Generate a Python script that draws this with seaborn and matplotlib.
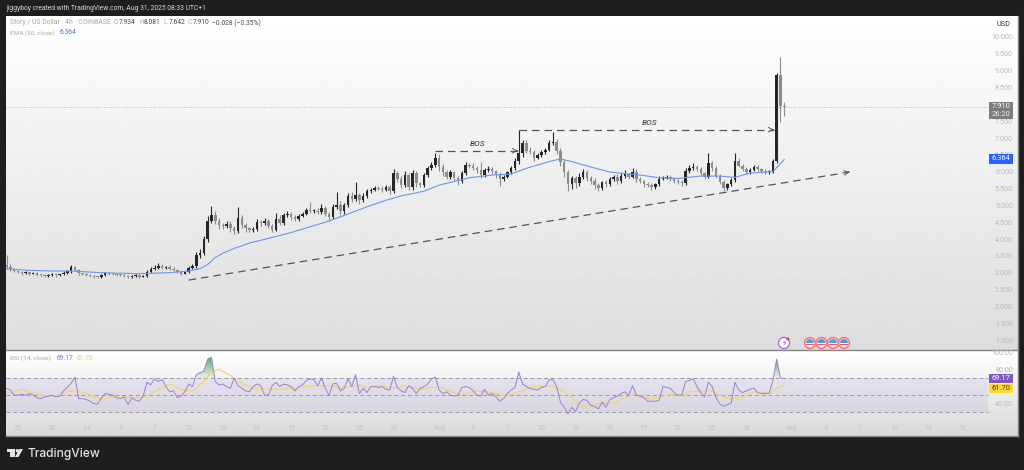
"""
STORY / USD 4h chart with EMA and RSI pane
"""
import numpy as np
import pandas as pd
import matplotlib
matplotlib.use('Agg')
import matplotlib.pyplot as plt
import matplotlib.dates as mdates
import seaborn as sns
from matplotlib.patches import Circle, Polygon, Rectangle, Wedge
from matplotlib.path import Path
from matplotlib.transforms import Affine2D

# candles, one row = 10 bars
closes = [
    3.18, 3.10, 3.05, 3.02, 2.98, 3.01, 2.97, 2.99, 2.93, 2.92,
    2.90, 2.93, 2.95, 2.92, 2.95, 3.00, 3.04, 3.16, 3.08, 2.98,
    2.95, 2.93, 2.91, 2.88, 2.86, 2.93, 2.99, 2.97, 2.95, 2.94,
    2.93, 2.90, 2.87, 2.90, 2.92, 2.88, 2.91, 3.02, 3.12, 3.14,
    3.20, 3.15, 3.17, 3.12, 3.08, 3.03, 2.97, 3.03, 3.15, 3.20,
    3.52, 3.58, 4.00, 4.55, 4.72, 4.55, 4.42, 4.38, 4.45, 4.34,
    4.25, 4.62, 4.42, 4.32, 4.27, 4.30, 4.50, 4.48, 4.55, 4.40,
    4.28, 4.60, 4.48, 4.70, 4.73, 4.65, 4.60, 4.68, 4.75, 4.85,
    4.82, 4.84, 4.80, 4.92, 4.75, 4.65, 4.95, 5.02, 4.82, 5.00,
    5.28, 5.18, 5.30, 5.15, 5.28, 5.42, 5.47, 5.52, 5.50, 5.46,
    5.54, 5.42, 5.95, 5.78, 5.60, 5.90, 5.55, 5.95, 5.65, 5.60,
    5.90, 6.12, 6.20, 6.42, 6.15, 5.98, 5.85, 5.98, 5.82, 5.72,
    5.95, 6.20, 6.18, 6.12, 6.05, 5.90, 6.05, 6.08, 6.02, 5.92,
    5.78, 5.85, 5.98, 6.10, 6.32, 6.55, 6.85, 6.62, 6.58, 6.42,
    6.50, 6.58, 6.65, 6.85, 6.88, 6.62, 6.30, 6.00, 5.62, 5.80,
    5.65, 5.85, 6.00, 5.82, 5.72, 5.60, 5.52, 5.68, 5.62, 5.78,
    5.85, 5.72, 5.88, 5.92, 5.85, 6.00, 5.78, 5.72, 5.62, 5.60,
    5.55, 5.62, 5.78, 5.82, 5.85, 5.78, 5.72, 5.70, 5.66, 6.02,
    6.10, 6.15, 6.08, 5.95, 5.85, 6.25, 6.12, 5.88, 5.70, 5.52,
    5.62, 5.75, 6.32, 6.18, 6.08, 5.98, 6.05, 6.15, 6.08, 6.02,
    5.98, 6.00, 6.32, 8.87, 7.95, 7.91,
]
up_wick = [
    .30, .08, .04, .03, .04, .03, .02, .03, .04, .02,
    .03, .02, .04, .03, .02, .04, .03, .08, .05, .03,
    .02, .03, .02, .03, .02, .03, .04, .02, .03, .02,
    .02, .03, .02, .02, .03, .02, .03, .05, .04, .08,
    .10, .06, .03, .05, .04, .03, .02, .02, .04, .05,
    .10, .12, .08, .12, .26, .10, .08, .06, .10, .08,
    .06, .34, .08, .05, .04, .07, .10, .06, .08, .05,
    .04, .18, .10, .08, .10, .06, .05, .06, .05, .08,
    .25, .06, .08, .12, .05, .06, .10, .38, .10, .08,
    .10, .12, .40, .08, .10, .08, .05, .04, .04, .06,
    .05, .06, .14, .08, .10, .12, .05, .10, .08, .05,
    .05, .06, .08, .12, .10, .07, .06, .08, .05, .06,
    .08, .10, .06, .08, .05, .25, .06, .08, .06, .04,
    .06, .06, .05, .06, .10, .69, .10, .08, .10, .06,
    .05, .06, .05, .10, .30, .08, .08, .05, .06, .08,
    .06, .10, .08, .06, .05, .08, .06, .05, .08, .06,
    .06, .08, .08, .12, .05, .10, .08, .05, .04, .06,
    .05, .05, .08, .05, .06, .05, .04, .05, .05, .08,
    .10, .10, .06, .05, .04, .30, .08, .06, .05, .05,
    .05, .06, .23, .10, .05, .06, .05, .06, .05, .04,
    .05, .06, .06, .05, .54, .13,
]
down_wick = [
    .06, .05, .04, .03, .04, .02, .03, .02, .04, .03,
    .03, .02, .03, .04, .02, .03, .03, .04, .03, .05,
    .03, .02, .03, .04, .03, .02, .03, .04, .02, .03,
    .02, .04, .03, .02, .03, .04, .02, .03, .04, .03,
    .04, .05, .03, .04, .03, .04, .04, .02, .03, .04,
    .05, .08, .06, .08, .06, .10, .12, .08, .06, .14,
    .10, .06, .08, .10, .06, .05, .06, .08, .05, .07,
    .08, .05, .06, .05, .06, .08, .06, .05, .04, .05,
    .06, .05, .07, .05, .08, .10, .06, .05, .10, .08,
    .06, .08, .05, .10, .06, .05, .04, .03, .05, .06,
    .04, .08, .06, .10, .08, .06, .10, .08, .10, .06,
    .06, .05, .06, .05, .12, .10, .08, .06, .10, .12,
    .06, .05, .08, .06, .08, .10, .05, .06, .08, .10,
    .20, .06, .05, .06, .04, .08, .10, .08, .06, .10,
    .05, .06, .05, .04, .06, .10, .12, .15, .18, .12,
    .12, .08, .06, .10, .08, .10, .10, .06, .08, .05,
    .06, .08, .05, .06, .08, .05, .10, .06, .08, .05,
    .08, .05, .06, .04, .05, .06, .05, .06, .08, .05,
    .06, .05, .06, .08, .06, .05, .10, .08, .06, .08,
    .06, .05, .06, .05, .06, .05, .06, .04, .05, .06,
    .06, .05, .05, .05, .46, .27,
]

# EMA 50, read at these bar numbers
ema_bars = [0, 6, 12, 17, 25, 35, 43, 48, 51, 53, 55, 57, 60, 64, 69, 74, 79, 84, 88,
            92, 96, 100, 104, 110, 114, 122, 128, 133, 137, 143, 146, 149, 153, 159,
            167, 172, 177, 183, 188, 192, 196, 202, 205]
ema_vals = [3.11, 3.07, 3.05, 3.05, 3.00, 2.97, 3.00, 3.05, 3.12, 3.24, 3.45, 3.58, 3.72,
            3.88, 4.02, 4.16, 4.33, 4.50, 4.66, 4.83, 5.00, 5.15, 5.28, 5.42, 5.60, 5.82,
            5.90, 5.93, 6.10, 6.30, 6.38, 6.30, 6.17, 5.99, 5.90, 5.82, 5.80, 5.87, 5.87,
            5.83, 5.96, 6.00, 6.364]

# RSI, same bars as the candles
rsi_vals = [
    58, 56, 50, 50, 51, 50, 52, 50, 47, 46,
    48, 49, 50, 48, 49, 55, 59, 64, 71, 46,
    46, 45, 43, 40, 40, 47, 52, 51, 50, 47,
    46, 48, 39, 47, 44, 43, 49, 65, 62, 69,
    66, 68, 60, 54, 55, 47, 49, 54, 63, 60,
    74, 76, 78, 92, 94, 66, 62, 63, 60, 58,
    70, 61, 58, 55, 54, 60, 63, 61, 50, 50,
    61, 65, 60, 63, 62, 60, 55, 60, 62, 67,
    69, 68, 61, 70, 58, 50, 63, 64, 55, 58,
    69, 60, 74, 52, 58, 53, 60, 60, 59, 60,
    57, 56, 72, 59, 55, 53, 61, 58, 52, 58,
    60, 63, 69, 71, 56, 52, 54, 50, 49, 50,
    59, 60, 59, 55, 50, 49, 57, 50, 52, 48,
    43, 46, 52, 56, 59, 77, 63, 60, 58, 57,
    56, 59, 60, 68, 68, 60, 42, 36, 28, 36,
    31, 41, 45, 44, 38, 37, 34, 42, 36, 45,
    47, 49, 52, 54, 50, 61, 50, 49, 47, 43,
    43, 43, 44, 60, 59, 58, 53, 50, 50, 66,
    67, 69, 60, 53, 48, 65, 60, 47, 40, 37,
    39, 41, 65, 56, 53, 55, 57, 58, 53, 52,
    52, 52, 67, 92, 70, 69.17,
]
rsi_ma_bars = [0, 4, 7, 10, 13, 18, 21, 25, 29, 33, 36, 40, 43, 46, 49, 52, 54, 56, 59, 62,
               65, 69, 74, 77, 81, 86, 88, 93, 95, 98, 102, 105, 109, 111, 115, 117, 120,
               124, 128, 131, 135, 139, 144, 147, 151, 153, 157, 160, 164, 166, 170, 175,
               178, 180, 184, 186, 188, 191, 194, 197, 201, 203, 205]
rsi_ma_vals = [52, 57, 52, 49.5, 49.5, 56, 52, 45, 48.5, 47.5, 47, 56.5, 63, 56.5, 54.5, 66,
               77, 80, 73, 63.5, 58.5, 57, 57.5, 58.5, 61, 61, 58, 62, 59, 61, 58.5, 61, 57,
               58.5, 59, 54, 51, 55, 53, 49.5, 54, 60, 61, 54, 39, 37, 41, 41, 49, 51, 45,
               51, 50, 54, 55, 55, 50, 45, 48, 54, 52, 58, 61.7]

price_ticks = [1, 1.5, 2, 2.5, 3, 3.5, 4, 4.5, 5, 5.5, 6, 6.5, 7, 7.5, 8, 8.5, 9, 9.5, 10]
rsi_ticks = [40, 80, 100]
date_ticks = ['2025-06-25', '2025-06-28', '2025-07-01', '2025-07-04', '2025-07-07', '2025-07-10',
              '2025-07-13', '2025-07-16', '2025-07-19', '2025-07-22', '2025-07-25', '2025-07-28',
              '2025-08-01', '2025-08-04', '2025-08-07', '2025-08-10', '2025-08-13', '2025-08-16',
              '2025-08-19', '2025-08-22', '2025-08-25', '2025-08-28', '2025-09-01', '2025-09-04',
              '2025-09-07', '2025-09-10', '2025-09-13', '2025-09-16']
date_labels = ['25', '28', 'Jul', '4', '7', '10', '13', '16', '19', '22', '25', '28', 'Aug', '4',
               '7', '10', '13', '16', '19', '22', '25', '28', 'Sep', '4', '7', '10', '13', '16']

# drawn lines: (start date, start price, end date, end price)
trend_line = ('2025-07-10 00:00', 2.78, '2025-09-06 02:00', 5.99)
bos_lines = [('2025-07-31 15:00', 6.62, '2025-08-07 22:00', 6.62),
             ('2025-08-08 00:00', 7.25, '2025-08-30 10:00', 7.25)]
bos_labels = [('2025-08-04 10:00', 6.82), ('2025-08-19 12:00', 7.45)]

sns.set_theme(style='white')
plt.rcParams['font.family'] = ['Roboto', 'DejaVu Sans']

BG = '#1e1e1e'
GREY_TXT = '#b9b9b9'
W, H = 1024, 470
px = Affine2D().scale(1, -1).translate(0, H)

fig = plt.figure(figsize=(W / 100, H / 100), dpi=100, facecolor=BG)


def pane(left, top, right, bottom, low_grey):
    rect = [left / W, 1 - bottom / H, (right - left) / W, (bottom - top) / H]
    bg = fig.add_axes(rect, zorder=0)
    shade = np.linspace(1.0, low_grey, 200).reshape(-1, 1)
    bg.imshow(shade, cmap='gray', vmin=0, vmax=1, aspect='auto')
    bg.axis('off')
    ax = fig.add_axes(rect, zorder=1)
    ax.set_facecolor('none')
    ax.spines['top'].set_visible(False)
    ax.spines['left'].set_visible(False)
    for s in ['bottom', 'right']:
        ax.spines[s].set_color('#858585')
        ax.spines[s].set_linewidth(1.0)
    return ax


def set_date_axis(ax):
    # 18 px is 25 Jun, one day is 11.38 px
    zero = pd.Timestamp('2025-06-25')
    ax.set_xlim(zero + pd.Timedelta(days=(6 - 18) / 11.38), zero + pd.Timedelta(days=(1018 - 18) / 11.38))
    ax.set_xlabel('')
    ax.set_ylabel('')


df = pd.DataFrame({'date': pd.date_range('2025-06-24', periods=len(closes), freq='8h'), 'close': closes})
df['open'] = df['close'].shift(1).fillna(3.22)
df['high'] = df[['open', 'close']].max(axis=1) + np.array(up_wick)
df['low'] = df[['open', 'close']].min(axis=1) - np.array(down_wick)
df['rsi'] = rsi_vals
rising = df['close'] >= df['open']

ema = pd.DataFrame({'date': df['date'].iloc[ema_bars].values, 'ema': ema_vals})
rsi_ma = pd.DataFrame({'date': df['date'].iloc[rsi_ma_bars].values, 'ma': rsi_ma_vals})

# ---- price pane
ax = pane(6, 16, 1018, 350, 0.865)

for mask, col in [(rising, '#262626'), (~rising, '#8c8c8c')]:
    part = df[mask]
    ax.vlines(part['date'], part['low'], part['high'], color=col, lw=0.8, zorder=3)
    ax.bar(part['date'], (part['close'] - part['open']).abs().clip(lower=0.03),
           bottom=part[['open', 'close']].min(axis=1), width=0.22, color=col, lw=0, zorder=4)

sns.lineplot(data=ema, x='date', y='ema', color='#6a96ee', lw=0.8, ax=ax, zorder=5)

ax.axhline(7.91, xmax=(989 - 6) / 1012, color='#9a9a9a', lw=0.6, ls=(0, (1, 2)), zorder=2)


def dash_arrow(line):
    x0, y0, x1, y1 = line
    xs = mdates.date2num(pd.to_datetime([x0, x1]))
    ax.plot(xs, [y0, y1], color='#555555', lw=0.9, ls=(0, (6, 4)), zorder=6)
    ax.annotate('', xy=(xs[1], y1), xytext=(xs[1] - 0.12, y1 - (y1 - y0) * 0.12 / (xs[1] - xs[0])),
                arrowprops=dict(arrowstyle='->', color='#555555', lw=0.7, mutation_scale=8,
                                shrinkA=0, shrinkB=0), zorder=6)


dash_arrow(trend_line)
for line in bos_lines:
    dash_arrow(line)
for when, price in bos_labels:
    ax.text(pd.Timestamp(when), price, 'BOS', fontsize=6, style='italic',
            color='#333333', ha='center', va='center', zorder=7)

# y limits follow from 10.0 at 37 px and 33.67 px per unit
ax.set_ylim(10 - (350 - 37) / 33.67, 10 + (37 - 16) / 33.67)
ax.set_yticks(price_ticks, [f'{p:.3f}' for p in price_ticks])
ax.yaxis.tick_right()
ax.tick_params(axis='y', length=0, pad=-3.6, labelsize=5.2, labelcolor=GREY_TXT)
for lab in ax.get_yticklabels():
    lab.set_ha('right')
ax.set_xticks([])
set_date_axis(ax)

# ---- RSI pane
ax2 = pane(6, 351, 1018, 436, 0.85)
band_end = (988 - 6) / 1012
ax2.axhspan(30, 70, xmax=band_end, color='#7e57c2', alpha=0.1, lw=0, zorder=1)
for lvl in [30, 50, 70]:
    ax2.axhline(lvl, xmax=band_end, color='#9c97a5', lw=0.7, ls=(0, (4, 3)), zorder=2)

# green shade above 70 fades out downwards, cut to the RSI outline
over = ax2.fill_between(df['date'], 70, df['rsi'], where=df['rsi'] > 70, interpolate=True,
                        color='none', lw=0)
fade = np.zeros((100, 1, 4))
fade[:, 0, 0], fade[:, 0, 1], fade[:, 0, 2] = 0.2, 0.62, 0.32
fade[:, 0, 3] = np.linspace(0.9, 0.05, 100)
img = ax2.imshow(fade, aspect='auto', zorder=2, origin='upper',
                 extent=[mdates.date2num(df['date'].iloc[0]), mdates.date2num(df['date'].iloc[-1]), 70, 95])
img.set_clip_path(Path.make_compound_path(*over.get_paths()), transform=ax2.transData)

sns.lineplot(data=rsi_ma, x='date', y='ma', color='#f3d46b', lw=0.9, ax=ax2, zorder=3)
sns.lineplot(data=df, x='date', y='rsi', color='#9b7fd4', lw=0.7, ax=ax2, zorder=4)

ax2.set_ylim(70 - (436 - 378) / 0.86, 70 + (378 - 351) / 0.86)
ax2.set_yticks(rsi_ticks, [f'{t:.2f}' for t in rsi_ticks])
ax2.yaxis.tick_right()
ax2.tick_params(axis='y', length=0, pad=-3.6, labelsize=5.2, labelcolor=GREY_TXT)
for lab in ax2.get_yticklabels():
    lab.set_ha('right')
ax2.set_xticks(pd.to_datetime(date_ticks), date_labels)
ax2.tick_params(axis='x', length=0, pad=-8, labelsize=5.2, labelcolor='#c2c2c2')
set_date_axis(ax2)


# ---- text and boxes outside the scales
def label(x, y, txt, color, size=4.9, **kw):
    kw.setdefault('va', 'center')
    fig.text(x, y, txt, color=color, fontsize=size, transform=px, zorder=20, **kw)


def box(x0, y0, x1, y1, color, ec='none'):
    fig.add_artist(Rectangle((x0, y0), x1 - x0, y1 - y0, fc=color, ec=ec, lw=0.5, transform=px, zorder=15))


label(6, 8, 'jiggyboy created with TradingView.com, Aug 31, 2025 08:33 UTC+1', '#d8d8d8')
label(10, 23, 'Story / US Dollar · 4h · COINBASE', '#a9a9a9', size=4.95)
for x, head, val in [(114, 'O', '7.934'), (139, 'H', '8.081'), (164, 'L', '7.642'), (188, 'C', '7.910')]:
    label(x, 23, head, '#a9a9a9')
    label(x + 4.5, 23, val, '#4a4a4a')
label(212, 23, '−0.028 (−0.35%)', '#4a4a4a')
label(10, 33, 'EMA (50, close)', '#a9a9a9', size=4.6)
label(60, 33, '6.364', '#3f7bf0')
label(10, 358.5, 'RSI (14, close)', '#a9a9a9', size=4.6)
label(57, 358.5, '69.17', '#8e6fd0')
label(77, 358.5, '61.70', '#f0cf4a')

box(991, 19, 1016, 31, '#ffffff')
label(1003.5, 25, 'USD', '#333333', size=5.2, ha='center')
box(989, 102, 1013, 119, '#7d7d7d')
label(1001, 106.5, '7.910', '#ffffff', size=5.4, ha='center')
label(1001, 114.5, '26:20', '#eeeeee', size=5.4, ha='center')
box(989, 154, 1013, 163.5, '#2962ff')
label(1001, 159, '6.364', '#ffffff', size=5.4, ha='center')
box(989, 374, 1013, 383, '#7e57c2')
label(1001, 378.7, '69.17', '#ffffff', size=5.4, ha='center')
box(989, 383.5, 1013, 392.5, '#fdd835')
label(1001, 388, '61.70', '#3a3a1a', size=5.4, ha='center')

# event badges
fig.add_artist(Circle((784, 343), 5.5, fc='#ffffff', ec='#b65fd0', lw=0.9, transform=px, zorder=15))
fig.add_artist(Circle((788, 339), 1.4, fc='#f23645', ec='none', transform=px, zorder=16))
fig.text(784, 343, '⚡', family=['DejaVu Sans'], color='#a83fc8', fontsize=5.5, ha='center', va='center',
         transform=px, zorder=17)
for x in [810, 821.5, 833, 844]:
    fig.add_artist(Circle((x, 343), 5.6, fc='#f7b9b9', ec='#ee6f6f', lw=0.8, transform=px, zorder=15))
    fig.add_artist(Circle((x, 343), 3.9, fc='#f5f0f0', ec='none', transform=px, zorder=16))
    fig.add_artist(Wedge((x, 343), 3.9, 180, 360, fc='#4a9be8', ec='none', transform=px, zorder=17))
    fig.add_artist(Rectangle((x - 3.7, 343.5), 7.4, 1.1, fc='#ee5a5a', ec='none', transform=px, zorder=18))

# TradingView logo
logo = '#e4e4e4'
fig.add_artist(Polygon([(6.7, 449), (15, 449), (15, 457), (10, 457), (10, 452.3), (6.7, 452.3)],
                       fc=logo, ec='none', transform=px, zorder=20))
fig.add_artist(Circle((17.3, 450.7), 1.7, fc=logo, ec='none', transform=px, zorder=20))
fig.add_artist(Polygon([(19.5, 449), (23, 449), (18.5, 457), (15, 457)], fc=logo, ec='none', transform=px, zorder=20))
label(27.5, 453.5, 'TradingView', logo, size=8.6, family=['Inter', 'DejaVu Sans'], fontweight='medium')

fig.savefig('out.png', dpi=100, facecolor=BG)
